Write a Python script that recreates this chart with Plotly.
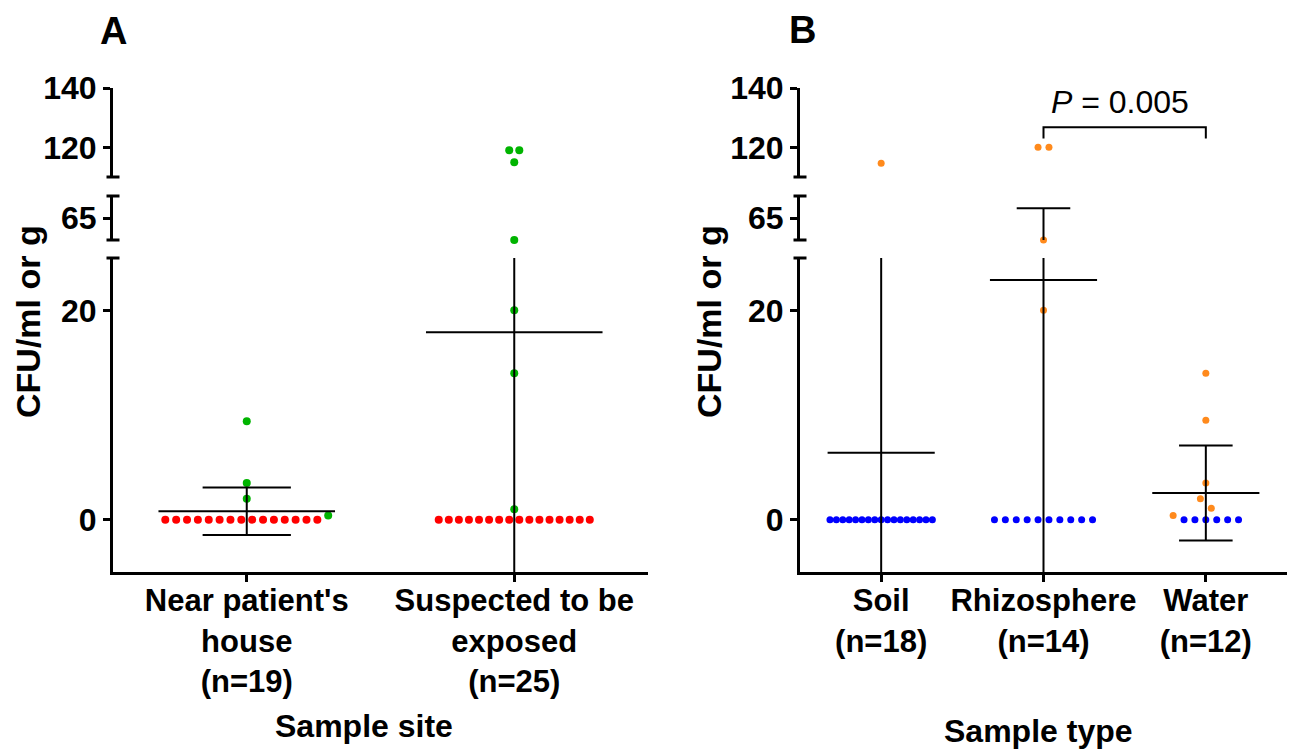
import plotly.graph_objects as go

# ---------------- data ----------------
a_categories = ["Near patient's<br>house<br>(n=19)", "Suspected to be<br>exposed<br>(n=25)"]
a_red = [
    [0, 0, 0, 0, 0, 0, 0, 0, 0, 0, 0, 0, 0, 0, 0],
    [0, 0, 0, 0, 0, 0, 0, 0, 0, 0, 0, 0, 0, 0, 0, 0],
]
a_green = [
    [9.4, 3.5, 2.0, 0.4],
    [119, 119, 115, 60, 20, 14, 1.0],
]
a_mean = [0.8, 17.9]
a_sd = [2.27, 39.6]

b_categories = ["Soil<br>(n=18)", "Rhizosphere<br>(n=14)", "Water<br>(n=12)"]
b_orange = [
    [114.6],
    [120, 120, 60, 20],
    [14.0, 9.5, 3.5, 2.0, 1.1, 0.4],
]
b_blue = [
    [0, 0, 0, 0, 0, 0, 0, 0, 0, 0, 0, 0, 0, 0, 0, 0, 0],
    [0, 0, 0, 0, 0, 0, 0, 0, 0, 0],
    [0, 0, 0, 0, 0, 0],
]
b_mean = [6.4, 22.9, 2.54]
b_sd = [27.0, 44.3, 4.54]

y_segment_ranges = [(-5, 25), (60, 70), (110, 140)]
y_segment_ticks = [[0, 20], [65], [120, 140]]
p_text = "<i>P</i> = 0.005"
p_pair = (1, 2)

# ---------------- layout constants (screen pixels) ----------------
OFF = 8  # page body margin
W, H = 1295 - OFF, 751 - OFF
seg_px = [(572, 258), (240, 196), (177, 88)]  # (bottom px, top px) per segment
A_X0, A_X1 = 113, 648
B_X0, B_X1 = 800, 1287
FONT = "Arial, Liberation Sans, sans-serif"
RED, GREEN, ORANGE, BLUE = "#FF0000", "#00B400", "#FF8A1C", "#0000FF"


def px_x(p):
    return (p - OFF) / W


def px_y(p):
    return 1 - (p - OFF) / H


def seg_of(v):
    for k, (lo, hi) in enumerate(y_segment_ranges):
        if lo <= v <= hi:
            return k
    return None


def to_px(v):
    k = seg_of(v)
    lo, hi = y_segment_ranges[k]
    p0, p1 = seg_px[k]
    return p0 + (v - lo) / (hi - lo) * (p1 - p0)


def swarm(series_list, spacing_px, px_per_unit, thresh=10):
    """series_list: list of value lists (in draw order). Returns list of x-offset lists."""
    pts = []
    for s, vals in enumerate(series_list):
        for i, v in enumerate(vals):
            pts.append((len(pts), s, i, v, to_px(v)))
    order = sorted(pts, key=lambda p: p[4])
    rows = []
    for p in order:
        if rows and abs(p[4] - rows[-1][0][4]) < thresh:
            rows[-1].append(p)
        else:
            rows.append([p])
    offs = [[0.0] * len(v) for v in series_list]
    for row in rows:
        row.sort(key=lambda p: p[0])
        n = len(row)
        for j, p in enumerate(row):
            offs[p[1]][p[2]] = (j - (n - 1) / 2) * spacing_px / px_per_unit
    return offs


fig = go.Figure()


def add_panel(xname, ynames, categories, series, colors, means, sds, spacing, px_per_unit, msize):
    # dots
    for ci in range(len(categories)):
        offs = swarm([s[ci] for s in series], spacing[ci], px_per_unit)
        for si, s in enumerate(series):
            for k, yn in enumerate(ynames):
                xs, ys = [], []
                for v, o in zip(s[ci], offs[si]):
                    if seg_of(v) == k:
                        xs.append(ci + o)
                        ys.append(v)
                if xs:
                    fig.add_trace(go.Scatter(
                        x=xs, y=ys, mode="markers", xaxis=xname, yaxis=yn,
                        marker=dict(color=colors[si], size=msize, line=dict(width=0)),
                        cliponaxis=False, showlegend=False, hoverinfo="skip"))
    # mean +/- SD
    lx, ly = [], []
    for ci, (m, sd) in enumerate(zip(means, sds)):
        lx += [ci - 0.33, ci + 0.33, None]
        ly += [m, m, None]
        lx += [ci, ci, None]
        ly += [m - sd, m + sd, None]
        lx += [ci - 0.165, ci + 0.165, None, ci - 0.165, ci + 0.165, None]
        ly += [m + sd, m + sd, None, m - sd, m - sd, None]
    for yn in ynames:
        fig.add_trace(go.Scatter(
            x=lx, y=ly, mode="lines", xaxis=xname, yaxis=yn,
            line=dict(color="black", width=2), showlegend=False, hoverinfo="skip"))


add_panel("x", ["y", "y2", "y3"], a_categories, [a_red, a_green], [RED, GREEN],
          a_mean, a_sd, [10.86, 10.07], (A_X1 - A_X0) / 2, 8)
add_panel("x2", ["y4", "y5", "y6"], b_categories, [b_orange, b_blue], [ORANGE, BLUE],
          b_mean, b_sd, [6.4, 10.9, 10.9], (B_X1 - B_X0) / 3, 7)

tickfont = dict(family=FONT, size=32, color="black", weight="bold")
catfont = dict(family=FONT, size=31, color="black", weight="bold")


def yaxis(k, anchor):
    lo, hi = y_segment_ranges[k]
    b, t = seg_px[k]
    return dict(domain=[px_y(b), px_y(t)], anchor=anchor, range=[lo, hi],
                tickmode="array", tickvals=y_segment_ticks[k],
                showline=True, linewidth=3, linecolor="black",
                ticks="outside", ticklen=7, tickwidth=3, tickcolor="black",
                tickfont=tickfont, showgrid=False, zeroline=False, automargin=False,
                fixedrange=True)


def xaxis(x0, x1, cats, anchor):
    return dict(domain=[px_x(x0), px_x(x1)], anchor=anchor, range=[-0.5, len(cats) - 0.5],
                tickmode="array", tickvals=list(range(len(cats))), ticktext=cats,
                showline=True, linewidth=3, linecolor="black",
                ticks="outside", ticklen=7, tickwidth=3, tickcolor="black",
                tickfont=catfont, showgrid=False, zeroline=False, automargin=False,
                ticklabelstandoff=-8, fixedrange=True)


shapes = []
for ax0, yrefs in [(A_X0, ["y", "y2", "y3"]), (B_X0, ["y4", "y5", "y6"])]:
    caps = [(yrefs[0], 1), (yrefs[1], 0), (yrefs[1], 1), (yrefs[2], 0)]
    for yr, yy in caps:
        shapes.append(dict(type="line", xref="paper", yref=yr + " domain",
                           x0=px_x(ax0 - 6.5), x1=px_x(ax0 + 6.5), y0=yy, y1=yy,
                           line=dict(color="black", width=3)))
# significance bracket (Rhizosphere vs Water)
shapes.append(dict(type="path", xref="x2", yref="y6",
                   path=f"M {p_pair[0]},123 L {p_pair[0]},126.8 L {p_pair[1]},126.8 L {p_pair[1]},123",
                   line=dict(color="black", width=2)))

annotations = [
    dict(text="<b>A</b>", x=px_x(113), y=px_y(31), xref="paper", yref="paper",
         showarrow=False, xanchor="center", yanchor="middle",
         font=dict(family=FONT, size=38, color="black")),
    dict(text="<b>B</b>", x=px_x(803), y=px_y(30), xref="paper", yref="paper",
         showarrow=False, xanchor="center", yanchor="middle",
         font=dict(family=FONT, size=38, color="black")),
    dict(text="<b>CFU/ml or g</b>", x=px_x(28), y=px_y(322), xref="paper", yref="paper",
         showarrow=False, textangle=-90, xanchor="center", yanchor="middle",
         font=dict(family=FONT, size=34, color="black")),
    dict(text="<b>CFU/ml or g</b>", x=px_x(709), y=px_y(322), xref="paper", yref="paper",
         showarrow=False, textangle=-90, xanchor="center", yanchor="middle",
         font=dict(family=FONT, size=34, color="black")),
    dict(text="<b>Sample site</b>", x=px_x(364), y=px_y(726), xref="paper", yref="paper",
         showarrow=False, xanchor="center", yanchor="middle",
         font=dict(family=FONT, size=32, color="black")),
    dict(text="<b>Sample type</b>", x=px_x(1038), y=px_y(731), xref="paper", yref="paper",
         showarrow=False, xanchor="center", yanchor="middle",
         font=dict(family=FONT, size=32, color="black")),
    dict(text=p_text, x=px_x(1120), y=px_y(102), xref="paper", yref="paper",
         showarrow=False, xanchor="center", yanchor="middle",
         font=dict(family=FONT, size=32, color="black")),
]

fig.update_layout(
    width=W, height=H, margin=dict(l=0, r=0, t=0, b=0),
    paper_bgcolor="white", plot_bgcolor="white", showlegend=False,
    xaxis=xaxis(A_X0, A_X1, a_categories, "y"),
    xaxis2=xaxis(B_X0, B_X1, b_categories, "y4"),
    yaxis=yaxis(0, "x"), yaxis2=yaxis(1, "x"), yaxis3=yaxis(2, "x"),
    yaxis4=yaxis(0, "x2"), yaxis5=yaxis(1, "x2"), yaxis6=yaxis(2, "x2"),
    shapes=shapes, annotations=annotations,
)

fig.write_html("out.html")
